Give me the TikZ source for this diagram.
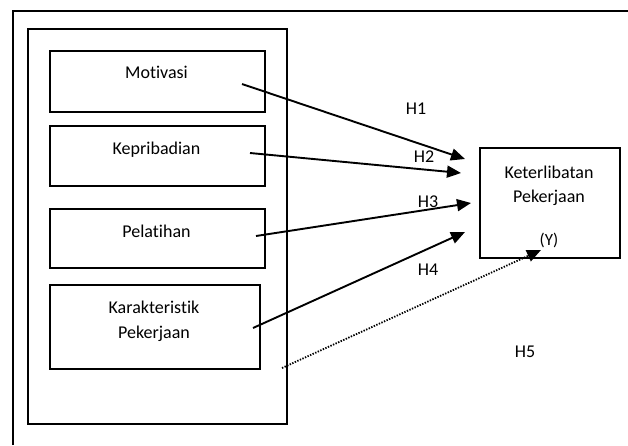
\documentclass[tikz,border=0pt]{standalone}
\usepackage{fontspec}
\setmainfont{Carlito}[RawFeature=-liga]
\usetikzlibrary{arrows.meta}
\begin{document}
\begin{tikzpicture}[x=1pt,y=-1pt,
  frame/.style={draw,line width=1.8pt},
  box/.style={draw,line width=2pt,anchor=north west,inner sep=0pt},
  lbl/.style={anchor=base,font=\fontsize{18}{22}\selectfont,inner sep=0pt},
  small/.style={anchor=base,font=\fontsize{17}{20}\selectfont,inner sep=0pt},
  link/.style={line width=1.9pt,-{Triangle[length=14pt,width=12pt]}},
  dotlink/.style={line width=1.8pt,dash pattern=on 1.4pt off 1.4pt,-{Triangle[length=14pt,width=12pt,sep=0pt]}},
]
\useasboundingbox (0,0) rectangle (628,445);
% outer frame (cut by the page edges)
\draw[frame] (13,445) -- (13,11) -- (628,11);
% inner group box
\node[box,line width=1.8pt,minimum width=259pt,minimum height=395pt] (group) at (27,28) {};
% variable boxes
\node[box,minimum width=215pt,minimum height=61pt] (mot) at (49,50) {};
\node[box,minimum width=215pt,minimum height=60pt] (kep) at (49,125) {};
\node[box,minimum width=215pt,minimum height=59pt] (pel) at (49,208) {};
\node[box,minimum width=210pt,minimum height=84pt] (kar) at (49,284) {};
\node[box,minimum width=140pt,minimum height=110pt] (ket) at (479,147) {};
% texts
\node[lbl] (tmot) at (156.5,78) {Motivasi};
\node[lbl] (tkep) at (156.5,154) {Kepribadian};
\node[lbl] (tpel) at (156.5,237) {Pelatihan};
\node[lbl] (tkar1) at (154,313) {Karakteristik};
\node[lbl] (tkar2) at (154,338) {Pekerjaan};
\node[lbl] (tket1) at (549,178) {Keterlibatan};
\node[lbl] (tket2) at (549,202) {Pekerjaan};
\node[small] (ty) at (549,245) {(Y)};
\node[lbl] (h1) at (416,114) {H1};
\node[lbl] (h2) at (424,162) {H2};
\node[lbl] (h3) at (428,207) {H3};
\node[lbl] (h4) at (428,275) {H4};
\node[lbl] (h5) at (525,357) {H5};
% connector end points
\coordinate (s1) at (242,84);
\coordinate (s2) at (250,153);
\coordinate (s3) at (256,236);
\coordinate (s4) at (253,328);
\coordinate (s5) at (282,368);
\coordinate (e1) at (465,159);
\coordinate (e2) at (461,173);
\coordinate (e3) at (471,203);
\coordinate (e4) at (465,232);
\coordinate (e5) at (541,250);
\draw[link] (s1) -- (e1);
\draw[link] (s2) -- (e2);
\draw[link] (s3) -- (e3);
\draw[link] (s4) -- (e4);
\draw[dotlink] (s5) -- (e5);
\end{tikzpicture}
\end{document}
